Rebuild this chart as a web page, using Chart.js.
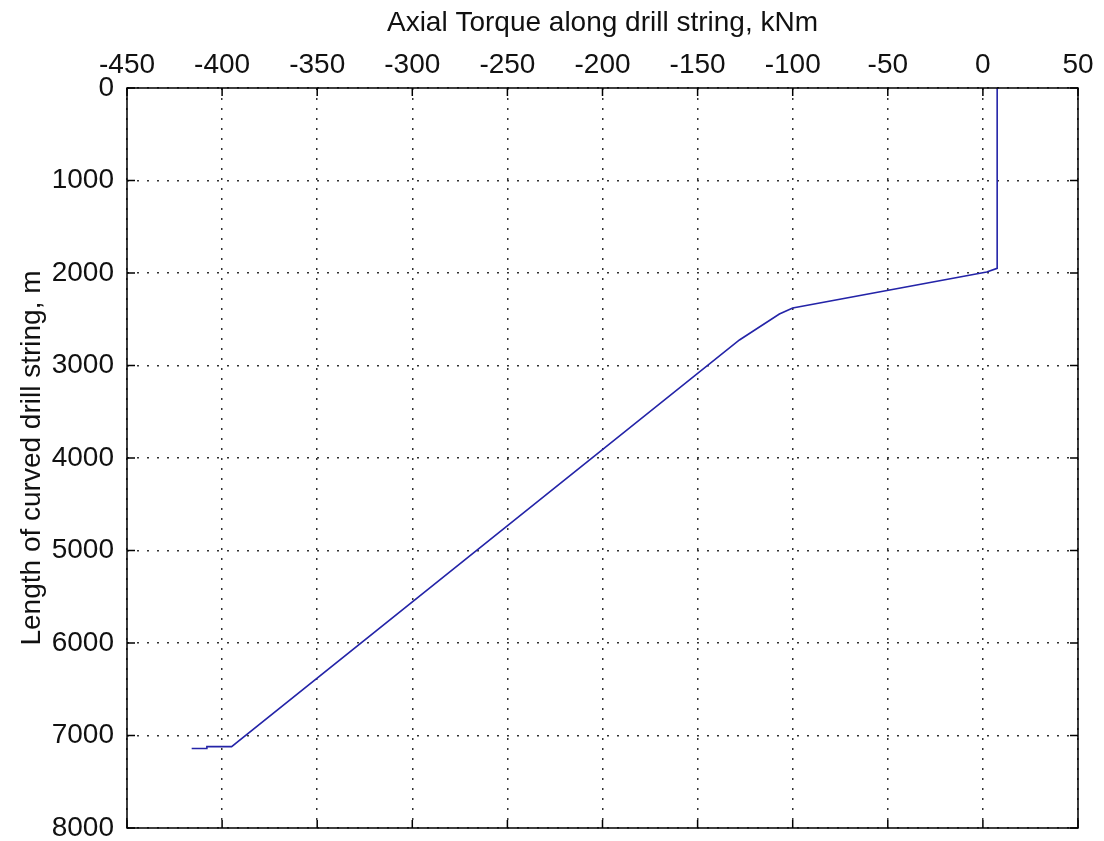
<!DOCTYPE html>
<html>
<head>
<meta charset="utf-8">
<script src="https://cdn.jsdelivr.net/npm/chart.js@4.4.0/dist/chart.umd.min.js"></script>
<style>
  body { margin: 0; background: #fff; }
  #box { width: 1104px; height: 841px; }
</style>
</head>
<body>
<div id="box"><canvas id="myChart" width="1104" height="841"></canvas></div>
<script>
// torque (kNm) against length along the curved string (m)
const torque = [7.5, 7.5, 2, -100, -107, -128, -395, -408, -408, -416];
const depth = [0, 1950, 1990, 2378, 2443, 2724, 7120, 7120, 7140, 7140];

const xTicks = [-450, -400, -350, -300, -250, -200, -150, -100, -50, 0, 50];
const yTicks = [0, 1000, 2000, 3000, 4000, 5000, 6000, 7000, 8000];

const fontFamily = "'Liberation Sans', Arial, sans-serif";

let points = torque.map((t, i) => ({ x: t, y: depth[i] }));

// matlab style box with inward tick marks
const boxPlugin = {
  id: 'box',
  afterDatasetsDraw(chart) {
    const { ctx, chartArea: a, scales } = chart;
    ctx.save();
    ctx.strokeStyle = '#000';
    ctx.lineWidth = 1.5;
    ctx.beginPath();
    xTicks.forEach((v) => {
      let px = scales.x.getPixelForValue(v);
      ctx.moveTo(px, a.top);
      ctx.lineTo(px, a.top + 8);
      ctx.moveTo(px, a.bottom);
      ctx.lineTo(px, a.bottom - 8);
    });
    yTicks.forEach((v) => {
      let py = scales.y.getPixelForValue(v);
      ctx.moveTo(a.left, py);
      ctx.lineTo(a.left + 8, py);
      ctx.moveTo(a.right, py);
      ctx.lineTo(a.right - 8, py);
    });
    ctx.stroke();
    ctx.strokeRect(a.left, a.top, a.right - a.left, a.bottom - a.top);
    ctx.restore();
  }
};

var ctx = document.getElementById('myChart').getContext('2d');
let myChart = new Chart(ctx, {
  type: 'scatter',
  data: {
    datasets: [
      {
        data: points,
        showLine: true,
        borderColor: '#2424a8',
        borderWidth: 1.6,
        pointRadius: 0,
        fill: false,
      },
    ],
  },
  options: {
    responsive: false,
    animation: false,
    layout: { padding: { left: 0, top: 0, right: 26, bottom: 13 } },
    plugins: { legend: { display: false }, tooltip: { enabled: false } },
    scales: {
      x: {
        type: 'linear',
        position: 'top',
        min: -450,
        max: 50,
        afterFit: (s) => { s.height = 88; s.paddingLeft = 0; s.paddingRight = 0; },
        afterBuildTicks: (s) => { s.ticks = xTicks.map((v) => ({ value: v })); },
        ticks: {
          autoSkip: false,
          maxRotation: 0,
          padding: 6,
          color: '#111',
          font: { family: fontFamily, size: 28 },
          callback: (v) => String(v),
        },
        grid: { color: '#333', lineWidth: 1.5, drawTicks: false },
        border: { display: false, dash: [2, 8] },
        title: {
          display: true,
          text: 'Axial Torque along drill string, kNm',
          color: '#111',
          padding: { top: 6, bottom: 0 },
          font: { family: fontFamily, size: 28 },
        },
      },
      y: {
        type: 'linear',
        reverse: true,
        min: 0,
        max: 8000,
        afterFit: (s) => { s.width = 127; s.paddingTop = 0; s.paddingBottom = 0; },
        afterBuildTicks: (s) => { s.ticks = yTicks.map((v) => ({ value: v })); },
        ticks: {
          autoSkip: false,
          padding: 13,
          color: '#111',
          font: { family: fontFamily, size: 28 },
          callback: (v) => String(v),
        },
        grid: { color: '#333', lineWidth: 1.5, drawTicks: false },
        border: { display: false, dash: [2, 8] },
        title: {
          display: true,
          text: 'Length of curved drill string, m',
          color: '#111',
          padding: { top: 15, bottom: 0 },
          font: { family: fontFamily, size: 28 },
        },
      },
    },
  },
  plugins: [boxPlugin],
});
</script>
</body>
</html>
